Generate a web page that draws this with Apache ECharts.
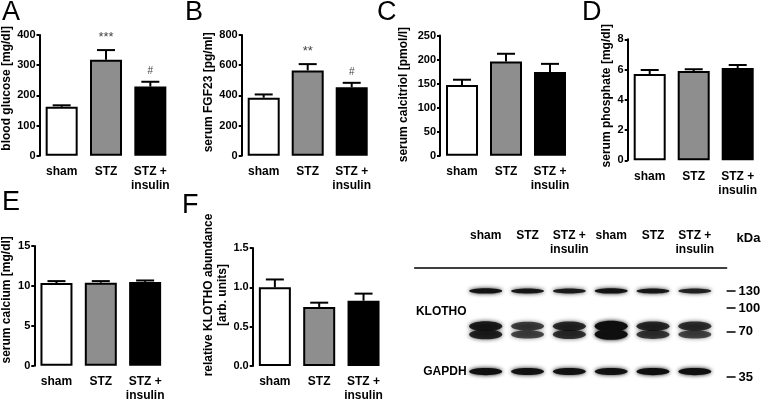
<!DOCTYPE html>
<html><head><meta charset="utf-8">
<script src="https://cdn.jsdelivr.net/npm/echarts@6/dist/echarts.min.js"></script>
<style>html,body{margin:0;padding:0;background:#fff}#c{width:762px;height:401px}</style>
</head><body><div id="c"></div>
<script>
// ---------- data ----------
const groups = ['sham', 'STZ', 'STZ +\ninsulin'];

const glucoseMean = [162, 318, 229];
const glucoseSem  = [5, 32, 16];
const glucoseSig  = ['', '***', '#'];
const glucoseTicks = [0, 100, 200, 300, 400];

const fgf23Mean = [384, 565, 453];
const fgf23Sem  = [22, 42, 30];
const fgf23Sig  = ['', '**', '#'];
const fgf23Ticks = [0, 200, 400, 600, 800];

const calcitriolMean = [147, 196, 174];
const calcitriolSem  = [11, 16, 17];
const calcitriolTicks = [0, 50, 100, 150, 200, 250];

const phosphateMean = [5.7, 5.9, 6.1];
const phosphateSem  = [0.27, 0.12, 0.2];
const phosphateTicks = [0, 2, 4, 6, 8];

const calciumMean = [10.35, 10.4, 10.5];
const calciumSem  = [0.25, 0.2, 0.18];
const calciumTicks = [0, 5, 10, 15];

const klothoMean = [1.0, 0.75, 0.83];
const klothoSem  = [0.1, 0.055, 0.09];
const klothoTicks = [0, 0.5, 1.0, 1.5];

// western blot (lane intensities 0..1, band sizes in kDa)
const lanes = ['sham', 'STZ', 'STZ +\ninsulin', 'sham', 'STZ', 'STZ +\ninsulin'];
const markerKDa = [130, 100, 70, 35];
const rowNames = ['KLOTHO', 'GAPDH'];
const rowKDa = [95, 38];
const klothoFullKDa = 130;
const klothoFull = [0.95, 0.9, 0.85, 0.95, 0.9, 0.8];
const klothoFragUpperKDa = 76;
const klothoFragUpper = [0.85, 0.6, 0.75, 1.0, 0.75, 0.7];
const klothoFragLowerKDa = 67;
const klothoFragLower = [0.8, 0.55, 0.7, 1.0, 0.65, 0.55];
const gapdhKDa = 38;
const gapdh = [1.0, 0.95, 0.95, 0.95, 1.0, 1.0];

// ---------- styles ----------
const FONT = 'Liberation Sans, Arial, Helvetica, sans-serif';
const barColors = ['#ffffff', '#8e8e8e', '#000000'];

const panels = [
  {letter:'A', lx:2,   ly:-1,  grid:{left:39.5, top:35,   width:133, height:120.7}, name:'blood glucose [mg/dl]', gap:25, up:7, mean:glucoseMean, sem:glucoseSem, sig:glucoseSig, ticks:glucoseTicks, dec:0},
  {letter:'B', lx:185, ly:-1,  grid:{left:241.7,top:35,   width:132, height:120.7}, name:'serum FGF23 [pg/ml]', gap:25, up:3, mean:fgf23Mean, sem:fgf23Sem, sig:fgf23Sig, ticks:fgf23Ticks, dec:0},
  {letter:'C', lx:377, ly:-1,  grid:{left:440,  top:35.5, width:132, height:120.2}, name:'serum calcitriol [pmol/l]', gap:29, up:1, mean:calcitriolMean, sem:calcitriolSem, sig:null, ticks:calcitriolTicks, dec:0},
  {letter:'D', lx:582, ly:-1,  grid:{left:627.7,top:39.3, width:132, height:121}, name:'serum phosphate [mg/dl]', gap:9, up:4, mean:phosphateMean, sem:phosphateSem, sig:null, ticks:phosphateTicks, dec:0},
  {letter:'E', lx:2,   ly:189, grid:{left:34.3, top:246,  width:133, height:119.7}, name:'serum calcium [mg/dl]', gap:13, up:6, mean:calciumMean, sem:calciumSem, sig:null, ticks:calciumTicks, dec:0},
  {letter:'F', lx:182, ly:192, grid:{left:252.7,top:248,  width:133, height:118}, name:'relative KLOTHO abundance\n[arb. units]', gap:22, up:12, mean:klothoMean, sem:klothoSem, sig:null, ticks:klothoTicks, dec:1}
];

function errRender(means, sems, sig) {
  return function (params, api) {
    const i = params.dataIndex;
    const base = api.coord([i, means[i]]);
    const top = api.coord([i, means[i] + sems[i]]);
    const x = base[0];
    const ch = [
      {type:'line', shape:{x1:x, y1:base[1], x2:x, y2:top[1]}, style:{stroke:'#000', lineWidth:2}},
      {type:'line', shape:{x1:x-9, y1:top[1], x2:x+9, y2:top[1]}, style:{stroke:'#000', lineWidth:2}}
    ];
    if (sig && sig[i]) {
      ch.push({type:'text', x:x, y:top[1]-6, style:{text:sig[i], align:'center', verticalAlign:'bottom',
        fontSize: sig[i] === '#' ? 10 : 13, fill:'#444', fontFamily:FONT}});
    }
    return {type:'group', children:ch};
  };
}

const grid = [], xAxis = [], yAxis = [], series = [], title = [];
panels.forEach((p, k) => {
  grid.push(Object.assign({outerBoundsMode:'none', containLabel:false}, p.grid));
  title.push({text:p.letter, left:p.lx, top:p.ly, padding:0,
    textStyle:{fontSize:27, fontWeight:'normal', color:'#000', fontFamily:FONT}});
  xAxis.push({type:'category', gridIndex:k, data:groups,
    axisLine:{show:false}, axisTick:{show:false},
    axisLabel:{margin:9, color:'#000', fontWeight:'bold', fontSize:12, lineHeight:14, fontFamily:FONT, interval:0}});
  const t = p.ticks;
  yAxis.push({type:'value', gridIndex:k, min:t[0], max:t[t.length-1], interval:t[1]-t[0],
    name:p.name, nameLocation:'middle', nameRotate:90, nameGap:p.gap,
    nameTextStyle:{color:'#000', fontWeight:'bold', fontSize:12, lineHeight:14, fontFamily:FONT,
      padding:[0, 0, 0, 2 * p.up]},
    axisLine:{show:true, lineStyle:{color:'#000', width:2}},
    axisTick:{show:true, length:3, lineStyle:{color:'#000', width:2}},
    splitLine:{show:false},
    axisLabel:{margin:4, color:'#000', fontWeight:'bold', fontSize:11, fontFamily:FONT,
      formatter: v => v.toFixed(p.dec)}});
  series.push({type:'bar', xAxisIndex:k, yAxisIndex:k, barWidth:32, silent:true,
    itemStyle:{borderColor:'#000', borderWidth:2},
    data:p.mean.map((v, i) => ({value:v, itemStyle:{color:barColors[i]}}))});
  series.push({type:'custom', xAxisIndex:k, yAxisIndex:k, z:5, silent:true,
    renderItem: errRender(p.mean, p.sem, p.sig),
    data:p.mean.map((v, i) => [i, v + p.sem[i]])});
});

// ---------- western blot panel ----------
const log10 = Math.log10;
const bk = 6;
grid.push({outerBoundsMode:'none', containLabel:false, left:414.6, top:281.6, width:312, height:105.5});
xAxis.push({type:'value', gridIndex:bk, position:'top', offset:14, min:-0.7, max:6.76,
  axisLine:{show:true, lineStyle:{color:'#000', width:1.5}}, axisTick:{show:false}, splitLine:{show:false},
  axisLabel:{customValues:[1,2,3,4,5,6], formatter: v => lanes[Math.round(v)-1] || '',
    verticalAlign:'top', margin:39, color:'#000', fontWeight:'bold', fontSize:12, lineHeight:14, fontFamily:FONT}});
const yMin = log10(30), yMax = log10(150);
yAxis.push({type:'value', gridIndex:bk, position:'left', min:yMin, max:yMax,
  axisLine:{show:false}, axisTick:{show:false}, splitLine:{show:false},
  axisLabel:{customValues: rowKDa.map(log10), inside:true, align:'right', margin:52,
    formatter: v => rowNames[rowKDa.findIndex(r => Math.abs(log10(r) - v) < 1e-6)] || '',
    color:'#000', fontWeight:'bold', fontSize:12, fontFamily:FONT}});
yAxis.push({type:'value', gridIndex:bk, position:'right', min:yMin, max:yMax,
  name:'kDa', nameLocation:'end', nameGap:37,
  nameTextStyle:{align:'left', padding:[0,0,0,10], color:'#000', fontWeight:'bold', fontSize:13, fontFamily:FONT},
  axisLine:{show:false}, splitLine:{show:false},
  axisTick:{show:true, customValues: markerKDa.map(log10), length:9, lineStyle:{color:'#000', width:1.5}},
  axisLabel:{customValues: markerKDa.map(log10), margin:12,
    formatter: v => String(Math.round(Math.pow(10, v))),
    color:'#000', fontWeight:'bold', fontSize:13, fontFamily:FONT}});

const bandH = {full:4.5, frag:9, gapdh:6};
const bands = [];
function addBands(kda, arr, type) { arr.forEach((a, i) => bands.push([i + 1, log10(kda), a, type])); }
addBands(klothoFullKDa, klothoFull, 'full');
addBands(klothoFragUpperKDa, klothoFragUpper, 'frag');
addBands(klothoFragLowerKDa, klothoFragLower, 'frag');
addBands(gapdhKDa, gapdh, 'gapdh');
series.push({type:'custom', xAxisIndex:bk, yAxisIndex:bk, silent:true,
  renderItem: function (params, api) {
    const b = bands[params.dataIndex];
    const c = api.coord([b[0], b[1]]);
    const a = b[2];
    const h = bandH[b[3]] * (0.6 + 0.6 * a);
    const w = 33;
    const col = 'rgba(15,15,15,' + (0.3 + 0.7 * a).toFixed(2) + ')';
    return {type:'ellipse', shape:{cx:c[0], cy:c[1], rx:w/2, ry:h/2},
      style:{fill:col, shadowBlur:4, shadowColor:col}};
  },
  data: bands.map(b => [b[0], b[1]])});

const chart = echarts.init(document.getElementById('c'), null, {renderer:'canvas'});
chart.setOption({backgroundColor:'#fff', animation:false, title, grid, xAxis, yAxis, series});
</script></body></html>
